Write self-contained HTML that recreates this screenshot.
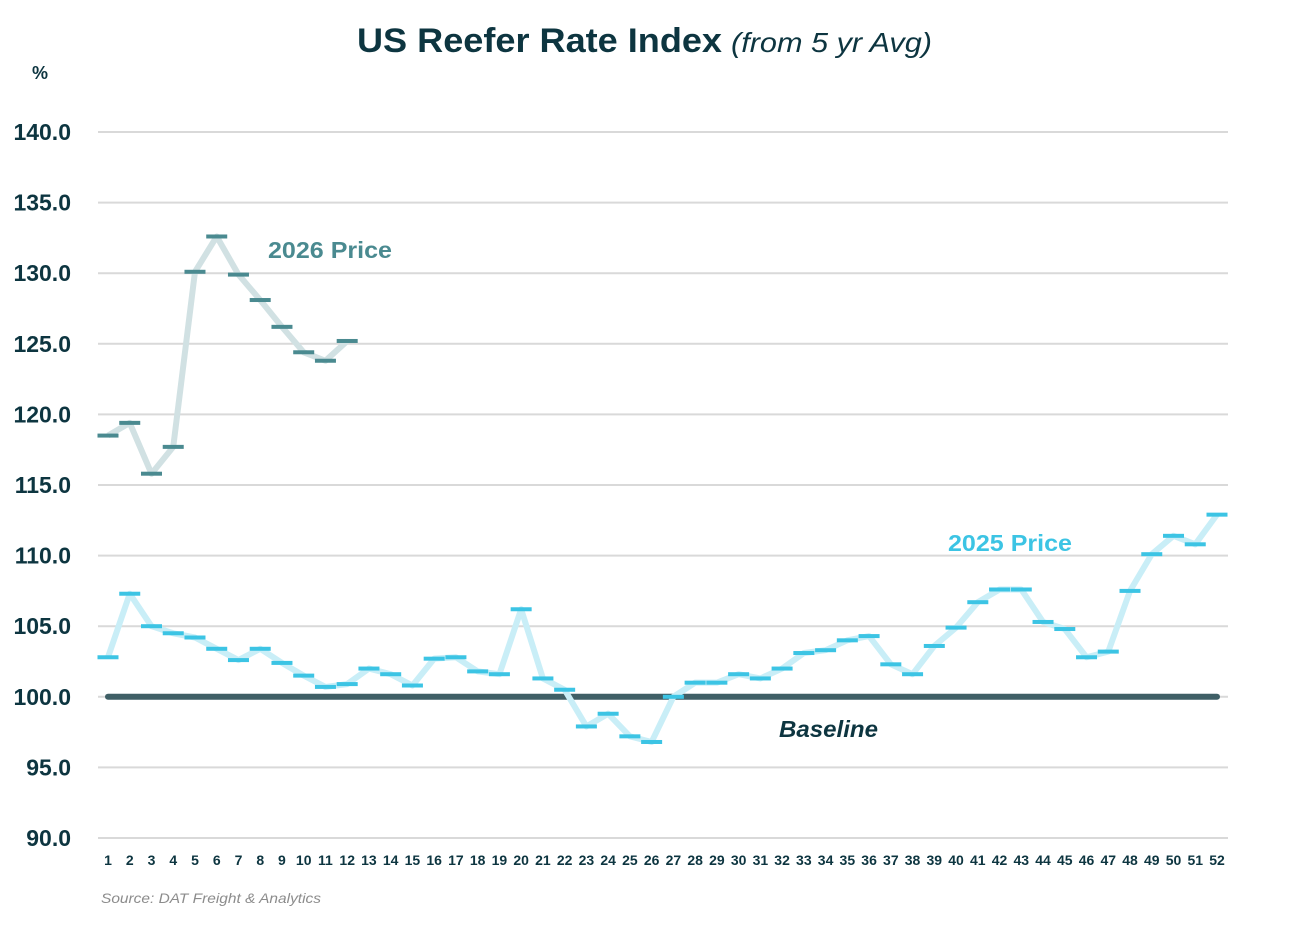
<!DOCTYPE html>
<html><head><meta charset="utf-8"><style>
html,body{margin:0;padding:0;background:#fff}
svg{display:block;font-family:"Liberation Sans",sans-serif}
</style></head><body>
<svg id="chart" width="1296" height="935" viewBox="0 0 1296 935">
<text x="357" y="52" font-size="34" font-weight="bold" fill="#0d3540" textLength="365" lengthAdjust="spacingAndGlyphs">US Reefer Rate Index</text>
<text x="731" y="52" font-size="28" font-style="italic" fill="#0d3540" textLength="201" lengthAdjust="spacingAndGlyphs">(from 5 yr Avg)</text>
<text x="32" y="79" font-size="18" font-weight="bold" fill="#0d3540">%</text>
<g id="grid"></g>
<g id="yticks"></g>
<g id="xticks"></g>
<g id="series"></g>
<text x="268" y="258" font-size="23" font-weight="bold" fill="#4a8a90" textLength="124" lengthAdjust="spacingAndGlyphs">2026 Price</text>
<text x="948" y="551" font-size="23" font-weight="bold" fill="#3cc4e4" textLength="124" lengthAdjust="spacingAndGlyphs">2025 Price</text>
<text x="779" y="737" font-size="23" font-weight="bold" font-style="italic" fill="#0d3540" textLength="99" lengthAdjust="spacingAndGlyphs">Baseline</text>
<text x="101" y="903" font-size="14" font-style="italic" fill="#8c8c8c" textLength="220" lengthAdjust="spacingAndGlyphs">Source:  DAT Freight &amp; Analytics</text>
</svg>
<script>
const weeks = Array.from({length:52},(_,i)=>i+1);
const yTicks = [90,95,100,105,110,115,120,125,130,135,140];
const price2026 = [118.5,119.4,115.8,117.7,130.1,132.6,129.9,128.1,126.2,124.4,123.8,125.2];
const price2025 = [102.8,107.3,105.0,104.5,104.2,103.4,102.6,103.4,102.4,101.5,100.7,100.9,102.0,101.6,100.8,102.7,102.8,101.8,101.6,106.2,101.3,100.5,97.9,98.8,97.2,96.8,100.0,101.0,101.0,101.6,101.3,102.0,103.1,103.3,104.0,104.3,102.3,101.6,103.6,104.9,106.7,107.6,107.6,105.3,104.8,102.8,103.2,107.5,110.1,111.4,110.8,112.9];
const baseline = 100;

const NS="http://www.w3.org/2000/svg";
const y = v => 838 - (v-90)*(706/50);
const x = w => 108 + (w-1)*(1109/51);
function mk(tag,parent){const e=document.createElementNS(NS,tag);parent.appendChild(e);return e;}
const grid=document.getElementById('grid'), yt=document.getElementById('yticks'), xt=document.getElementById('xticks'), ser=document.getElementById('series');
yTicks.forEach(v=>{
  const l=mk('line',grid);
  
  
  l.setAttribute('x1',98);l.setAttribute('x2',1228);l.setAttribute('y1',y(v));l.setAttribute('y2',y(v));
  l.setAttribute('stroke','#d9d9d9');l.setAttribute('stroke-width',2);
  const t=mk('text',yt);
  
  
  t.setAttribute('x',71);t.setAttribute('y',y(v)+8);t.setAttribute('text-anchor','end');
  t.setAttribute('font-size',23);t.setAttribute('font-weight','bold');t.setAttribute('fill','#0d3540');
  t.textContent=v.toFixed(1);
});
weeks.forEach(w=>{
  const t=mk('text',xt);
  
  
  t.setAttribute('x',x(w));t.setAttribute('y',865);t.setAttribute('text-anchor','middle');
  t.setAttribute('font-size',14);t.setAttribute('font-weight','bold');t.setAttribute('fill','#0d3540');
  t.textContent=w;
});
function drawSeries(vals,lineColor,markColor,name){
  const p=mk('polyline',ser);
  
  
  p.setAttribute('points',vals.map((v,i)=>x(i+1)+','+y(v)).join(' '));
  p.setAttribute('fill','none');p.setAttribute('stroke',lineColor);p.setAttribute('stroke-width',6);p.setAttribute('stroke-linejoin','round');
  vals.forEach((v,i)=>{
    const r=mk('rect',ser);
    
    
    r.setAttribute('x',x(i+1)-10.5);r.setAttribute('y',y(v)-2);r.setAttribute('width',21);r.setAttribute('height',4);
    r.setAttribute('fill',markColor);
  });
}
const bl=mk('line',ser);


bl.setAttribute('x1',x(1));bl.setAttribute('x2',x(52));bl.setAttribute('y1',y(baseline));bl.setAttribute('y2',y(baseline));
bl.setAttribute('stroke','#3f5f66');bl.setAttribute('stroke-width',6);bl.setAttribute('stroke-linecap','round');
drawSeries(price2025,'#c9eef7','#3cc4e4','price-2025');
drawSeries(price2026,'#d1e1e3','#4a8a90','price-2026');
</script>
</body></html>
